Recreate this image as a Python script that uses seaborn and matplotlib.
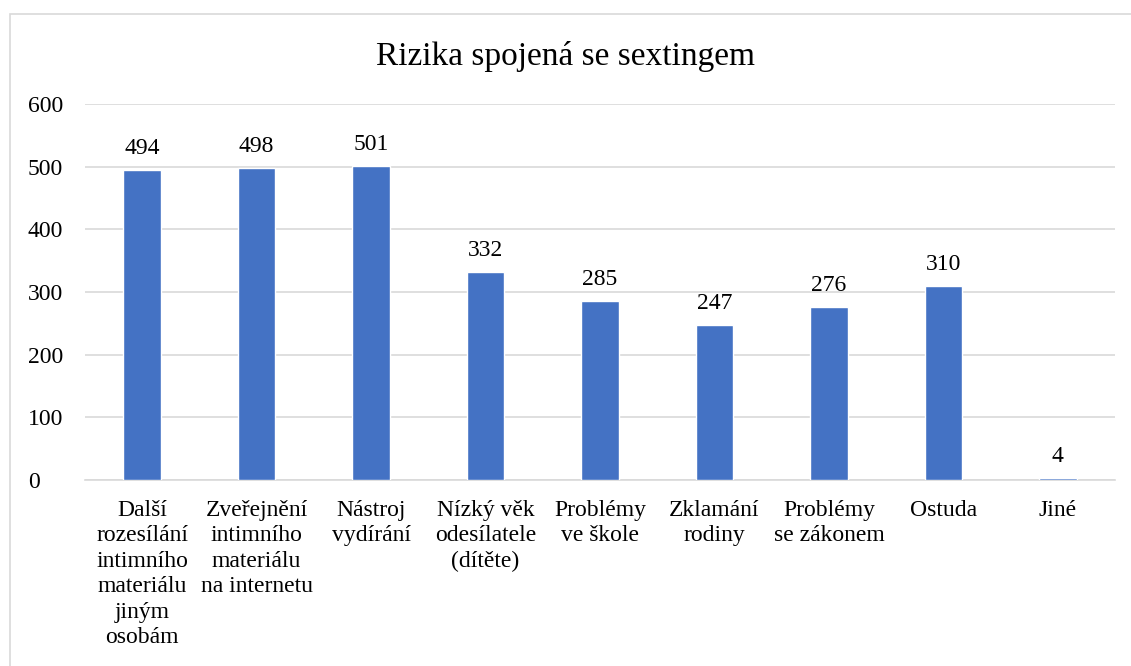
import numpy as np
import matplotlib
matplotlib.use("Agg")
import matplotlib.pyplot as plt
import pandas as pd
import seaborn as sns
from matplotlib.patches import Rectangle

categories = [
    "Další\nrozesílání\nintimního\nmateriálu\njiným\nosobám",
    "Zveřejnění\nintimního\nmateriálu\nna internetu",
    "Nástroj\nvydírání",
    "Nízký věk\nodesílatele\n(dítěte)",
    "Problémy\nve škole",
    "Zklamání\nrodiny",
    "Problémy\nse zákonem",
    "Ostuda",
    "Jiné",
]
values = [494, 498, 501, 332, 285, 247, 276, 310, 4]
title = "Rizika spojená se sextingem"

df = pd.DataFrame({"kategorie": categories, "pocet": values})

sns.set_style("white")
plt.rcParams["font.family"] = ["Liberation Serif", "DejaVu Serif"]
plt.rcParams["text.color"] = "black"

fig = plt.figure(figsize=(11.31, 6.66), dpi=100)
ax = fig.add_axes([0.075, 0.279, 0.911, 0.565])

sns.barplot(data=df, x="kategorie", y="pocet", color="#4472C4", width=0.33,
            saturation=1, ax=ax, zorder=3)

ax.set_ylim(0, 600)
ax.set_yticks(range(0, 601, 100))
ax.yaxis.grid(True, color="#d9d9d9", linewidth=1.2, zorder=0)
ax.set_axisbelow(True)
for s in ["top", "right", "left"]:
    ax.spines[s].set_visible(False)
ax.spines["bottom"].set_color("#d9d9d9")
ax.spines["bottom"].set_linewidth(1.2)
ax.tick_params(axis="both", length=0, labelsize=17, colors="black")
ax.tick_params(axis="x", pad=14)
ax.tick_params(axis="y", pad=41)
for lbl in ax.get_yticklabels():
    lbl.set_horizontalalignment("left")
for lbl in ax.get_xticklabels():
    lbl.set_linespacing(1.28)
ax.set_xlabel("")
ax.set_ylabel("")

for container in ax.containers:
    ax.bar_label(container, fmt="%d", padding=8, fontsize=17, color="black")

fig.text(0.5, 0.915, title, ha="center", va="center", fontsize=24,
         color="black")

# chart frame
fig.patches.append(Rectangle((10 / 1131, -0.1), 1.2, 1 - 14 / 666 + 0.1,
                             transform=fig.transFigure, fill=False,
                             edgecolor="#d9d9d9", linewidth=1.2))

fig.savefig("out.png", dpi=100)
